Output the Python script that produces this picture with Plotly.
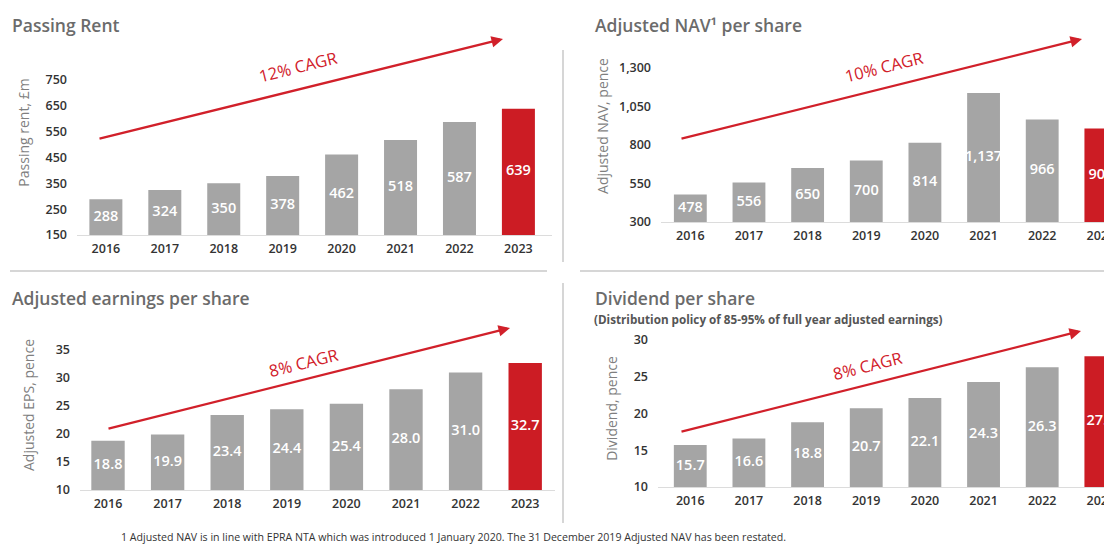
import plotly.graph_objects as go

# The page body adds an 8 px margin, so the figure is 8 px smaller than the
# window on each axis and every reference pixel position is shifted by 8 px.
OFF = 8
W, H = 1112 - OFF, 545 - OFF

years = ['2016', '2017', '2018', '2019', '2020', '2021', '2022', '2023']
passing_rent = [288, 324, 350, 378, 462, 518, 587, 639]
adjusted_nav = [478, 556, 650, 700, 814, 1137, 966, 907]
adjusted_eps = [18.8, 19.9, 23.4, 24.4, 25.4, 28.0, 31.0, 32.7]
dividend = [15.7, 16.6, 18.8, 20.7, 22.1, 24.3, 26.3, 27.8]

rent_ticks = [150, 250, 350, 450, 550, 650, 750]
nav_ticks = [300, 550, 800, 1050, 1300]
eps_ticks = [10, 15, 20, 25, 30, 35]
div_ticks = [10, 15, 20, 25, 30]

titles = ['Passing Rent', 'Adjusted NAV¹ per share', 'Adjusted earnings per share', 'Dividend per share']
subtitle = '(Distribution policy of 85-95% of full year adjusted earnings)'
y_titles = ['Passing rent, £m', 'Adjusted NAV, pence', 'Adjusted EPS, pence', 'Dividend, pence']
cagr_labels = ['12% CAGR', '10% CAGR', '8% CAGR', '8% CAGR']
footnote = ('1 Adjusted NAV is in line with EPRA NTA which was introduced 1 January 2020. '
            'The 31 December 2019 Adjusted NAV has been restated.')

GREY = '#a5a5a5'
RED = '#cc1c24'
ARROW_RED = '#d1202a'
FONT = 'Open Sans'


def px(x):
    return (x - OFF) / W


def py(y):
    return 1 - (y - OFF) / H


colors = [GREY] * 7 + [RED]

panels = [
    dict(v=passing_rent, ticks=rent_ticks, tf='d', fmt=lambda v: f'{v:d}', xd=(77, 552), yd=(235, 30),
         yr=(150, 150 + 205 / 0.2583), xr=(-0.49, 7.57), ts=12),
    dict(v=adjusted_nav, ticks=nav_ticks, tf=',d', fmt=lambda v: f'{v:,d}', xd=(661, 1112), yd=(222, 30),
         yr=(300, 300 + 192 / 0.154), xr=(-0.5, 7.19), ts=7),
    dict(v=adjusted_eps, ticks=eps_ticks, tf='d', fmt=lambda v: f'{v:.1f}', xd=(80, 555), yd=(490, 320),
         yr=(10, 10 + 170 / 5.6), xr=(-0.47, 7.5), ts=17),
    dict(v=dividend, ticks=div_ticks, tf='d', fmt=lambda v: f'{v:.1f}', xd=(658, 1112), yd=(487, 330),
         yr=(10, 10 + 157 / 7.35), xr=(-0.55, 7.19), ts=12),
]

fig = go.Figure()

for i, p in enumerate(panels):
    n = '' if i == 0 else str(i + 1)
    ymin = p['yr'][0]
    fig.add_trace(go.Bar(
        x=years, y=p['v'], marker=dict(color=colors, line=dict(width=0)),
        xaxis='x' + n, yaxis='y' + n, showlegend=False, hoverinfo='x+y'))
    # value labels centred in the visible part of each bar
    fig.add_trace(go.Scatter(
        x=years, y=[(ymin + v) / 2 for v in p['v']], mode='text',
        text=[p['fmt'](v) for v in p['v']],
        textfont=dict(color='white', size=14.5, family=FONT, weight=600), textposition='middle center',
        xaxis='x' + n, yaxis='y' + n, showlegend=False, hoverinfo='skip', cliponaxis=False))
    fig.layout['xaxis' + n] = dict(
        domain=[px(p['xd'][0]), px(p['xd'][1])], range=list(p['xr']), type='category',
        anchor='y' + n, showline=True, linecolor='#dcdcdc', linewidth=1.2, automargin=False,
        showgrid=False, zeroline=False, ticks='',
        tickfont=dict(size=12.5, color='#333333', family=FONT, weight=600), ticklabelstandoff=2)
    fig.layout['yaxis' + n] = dict(
        domain=[py(p['yd'][0]), py(p['yd'][1])], range=list(p['yr']), anchor='x' + n,
        tickvals=p['ticks'], tickformat=p['tf'], showgrid=False, zeroline=False,
        showline=False, ticks='', automargin=False, ticklabelstandoff=9,
        tickfont=dict(size=12.5, color='#333333', family=FONT, weight=600),
        title=dict(text=y_titles[i], font=dict(size=14, color='#7f7f7f', family=FONT),
                   standoff=p['ts']))

fig.update_layout(bargap=0.44)

annotations = []
title_pos = [(10, 25), (593, 25), (10, 298), (593, 298)]
for t, (x, y) in zip(titles, title_pos):
    annotations.append(dict(text=t, x=px(x), y=py(y), xref='paper', yref='paper',
                            xanchor='left', yanchor='middle', showarrow=False,
                            font=dict(size=17.5, color='#6b6b6b', family=FONT, weight=600)))
annotations.append(dict(text=subtitle, x=px(592), y=py(319), xref='paper', yref='paper',
                        xanchor='left', yanchor='middle', showarrow=False,
                        font=dict(size=11.7, color='#555555', family=FONT, weight=700)))

arrows = [((98, 139), (503, 39)), ((680, 139), (1082, 39)),
          ((107, 429), (510, 328)), ((680, 432), (1081, 331))]
label_pos = [((298, 67), -14), ((884, 67), -14), ((303, 362), -14), ((867, 365), -14)]
for (tail, head), lab, ((lx, ly), ang) in zip(arrows, cagr_labels, label_pos):
    annotations.append(dict(text='', x=px(head[0]), y=py(head[1]), xref='paper', yref='paper',
                            ax=tail[0] - head[0], ay=tail[1] - head[1], showarrow=True,
                            arrowhead=2, arrowsize=1, arrowwidth=2.3, arrowcolor=ARROW_RED,
                            standoff=0, startstandoff=0))
    annotations.append(dict(text=lab, x=px(lx), y=py(ly), xref='paper', yref='paper',
                            xanchor='center', yanchor='middle', showarrow=False, textangle=ang,
                            font=dict(size=16.5, color=ARROW_RED, family=FONT)))

annotations.append(dict(text=footnote, x=px(453), y=py(537), xref='paper', yref='paper',
                        xanchor='center', yanchor='middle', showarrow=False,
                        font=dict(size=10.6, color='#333333', family=FONT)))

shapes = [
    dict(type='line', xref='paper', yref='paper', x0=px(10), x1=px(547), y0=py(271), y1=py(271),
         line=dict(color='#c8c8c8', width=1.5)),
    dict(type='line', xref='paper', yref='paper', x0=px(580), x1=px(1112), y0=py(271), y1=py(271),
         line=dict(color='#c8c8c8', width=1.5)),
    dict(type='line', xref='paper', yref='paper', x0=px(563), x1=px(563), y0=py(50), y1=py(262),
         line=dict(color='#c8c8c8', width=1.5)),
    dict(type='line', xref='paper', yref='paper', x0=px(563), x1=px(563), y0=py(283), y1=py(523),
         line=dict(color='#c8c8c8', width=1.5)),
]

fig.update_layout(width=W, height=H, margin=dict(l=0, r=0, t=0, b=0),
                  paper_bgcolor='white', plot_bgcolor='white',
                  annotations=annotations, shapes=shapes, showlegend=False,
                  font=dict(family=FONT))

fig.write_html('out.html')
